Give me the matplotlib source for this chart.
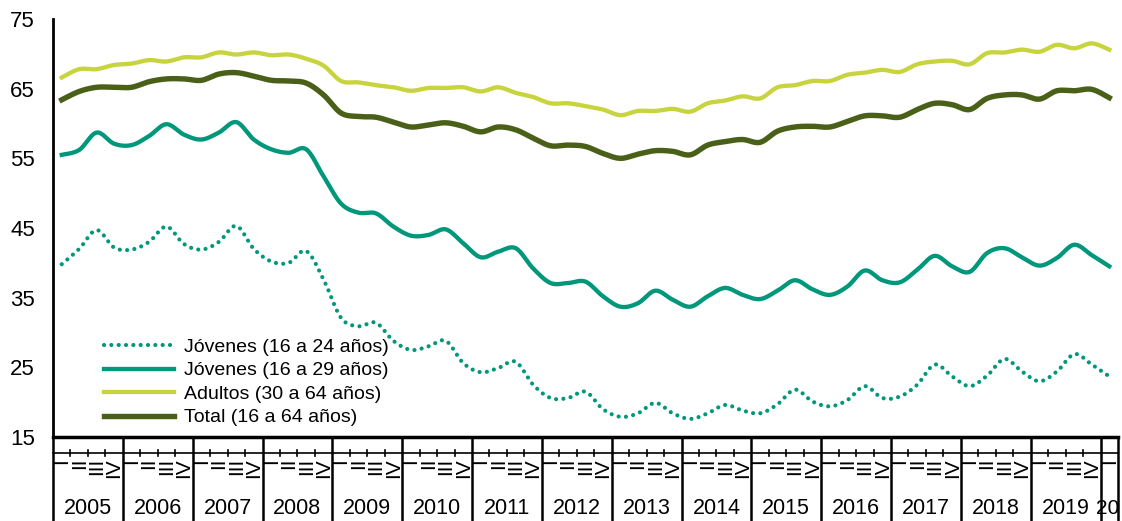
import numpy as np
import matplotlib.pyplot as plt
import matplotlib.transforms as mtransforms

# quarterly series 2005-I .. 2020-I
years = [str(y) for y in range(2005, 2021)]
quarters = ['I', 'II', 'III', 'IV']

jov24 = [39.8, 42.0, 44.7, 42.2, 41.9, 43.0, 45.2, 42.7, 41.9, 43.0,
         45.3, 42.0, 40.2, 40.0, 41.7, 37.6, 32.1, 30.9, 31.4, 28.8,
         27.5, 28.0, 28.8, 25.6, 24.3, 24.9, 25.8, 22.5, 20.6, 20.6,
         21.5, 19.0, 17.9, 18.4, 19.9, 18.4, 17.6, 18.4, 19.6, 18.8,
         18.4, 19.7, 21.8, 20.1, 19.4, 20.3, 22.3, 20.6, 20.8, 22.5,
         25.4, 23.7, 22.3, 23.8, 26.2, 24.4, 23.0, 24.4, 26.9, 25.4,
         23.7]
jov29 = [55.5, 56.2, 58.7, 57.1, 56.9, 58.2, 59.9, 58.4, 57.7, 58.7,
         60.2, 57.7, 56.3, 55.8, 56.3, 52.4, 48.5, 47.2, 47.1, 45.2,
         43.9, 44.0, 44.8, 42.8, 40.8, 41.6, 42.1, 39.2, 37.1, 37.1,
         37.3, 35.2, 33.7, 34.2, 36.0, 34.7, 33.7, 35.2, 36.4, 35.4,
         34.8, 36.0, 37.5, 36.2, 35.4, 36.6, 38.9, 37.5, 37.2, 39.0,
         41.0, 39.5, 38.7, 41.4, 42.1, 40.8, 39.6, 40.7, 42.6, 41.1,
         39.5]
adultos = [66.6, 67.8, 67.8, 68.4, 68.6, 69.1, 68.9, 69.5, 69.5, 70.2,
           69.9, 70.2, 69.8, 69.9, 69.3, 68.3, 66.1, 65.9, 65.5, 65.2,
           64.7, 65.1, 65.1, 65.2, 64.6, 65.2, 64.4, 63.8, 62.9, 62.9,
           62.5, 62.0, 61.2, 61.8, 61.8, 62.1, 61.7, 62.9, 63.3, 63.9,
           63.6, 65.2, 65.5, 66.1, 66.1, 67.0, 67.3, 67.7, 67.4, 68.5,
           68.9, 69.0, 68.5, 70.1, 70.2, 70.6, 70.3, 71.3, 70.8, 71.5,
           70.6]
total = [63.4, 64.6, 65.2, 65.2, 65.2, 66.0, 66.4, 66.4, 66.2, 67.1,
         67.3, 66.8, 66.2, 66.1, 65.8, 64.1, 61.5, 61.0, 60.9, 60.2,
         59.5, 59.8, 60.1, 59.6, 58.8, 59.5, 59.1, 57.9, 56.8, 56.9,
         56.7, 55.7, 55.0, 55.6, 56.1, 56.0, 55.5, 56.9, 57.4, 57.7,
         57.3, 58.9, 59.5, 59.6, 59.5, 60.3, 61.1, 61.1, 60.9, 62.0,
         62.9, 62.7, 62.0, 63.6, 64.1, 64.1, 63.5, 64.7, 64.7, 64.9,
         63.7]

names = ['Jóvenes (16 a 24 años)', 'Jóvenes (16 a 29 años)',
         'Adultos (30 a 64 años)', 'Total (16 a 64 años)']


def smooth(y, n=16):
    # catmull-rom curve through the points, like a smoothed excel line
    y = np.asarray(y, float)
    x = np.arange(len(y), dtype=float)
    px = np.concatenate([[x[0]], x, [x[-1]]])
    py = np.concatenate([[y[0]], y, [y[-1]]])
    t = np.linspace(0, 1, n, endpoint=False)
    xs, ys = [], []
    for i in range(1, len(px) - 2):
        for p, out in ((px, xs), (py, ys)):
            p0, p1, p2, p3 = p[i - 1], p[i], p[i + 1], p[i + 2]
            out.append(0.5 * ((2 * p1) + (-p0 + p2) * t
                              + (2 * p0 - 5 * p1 + 4 * p2 - p3) * t ** 2
                              + (-p0 + 3 * p1 - 3 * p2 + p3) * t ** 3))
    xs.append([x[-1]])
    ys.append([y[-1]])
    return np.concatenate(xs), np.concatenate(ys)


plt.rcParams['font.family'] = ['Liberation Sans', 'DejaVu Sans']

fig = plt.figure(figsize=(11.22, 5.21), dpi=100)
ax = fig.add_axes([53 / 1122, 84 / 521, 1065 / 1122, 418 / 521])

teal = '#00977A'
lime = '#C8D43E'
olive = '#4A6019'

x, y = smooth(jov24)
ax.plot(x, y, color=teal, lw=3, ls=(0, (0.01, 1.75)), dash_capstyle='round',
        label=names[0])
x, y = smooth(jov29)
ax.plot(x, y, color=teal, lw=3.1, label=names[1])
x, y = smooth(adultos)
ax.plot(x, y, color=lime, lw=3.1, label=names[2])
x, y = smooth(total)
ax.plot(x, y, color=olive, lw=3.9, label=names[3])

n = len(total)
ax.set_xlim(-0.5, n - 0.5)
ax.set_ylim(15, 75)
ax.set_yticks(np.arange(15, 76, 10))
ax.tick_params(axis='y', length=0, pad=13, labelsize=16)
ax.set_xticks([])
for s in ['top', 'right']:
    ax.spines[s].set_visible(False)
ax.spines['left'].set_linewidth(2)
ax.spines['bottom'].set_linewidth(2.5)

# category axis below the plot: quarters and years
tr = mtransforms.blended_transform_factory(ax.transData, ax.transAxes)
for k in range(0, n, 4):
    ax.plot([k - 0.5, k - 0.5], [0, -0.22], transform=tr, color='black',
            lw=1.8, clip_on=False)
ax.plot([n - 0.5, n - 0.5], [0, -0.22], transform=tr, color='black',
        lw=1.8, clip_on=False)
ax.plot([-0.5, n - 0.5], [-0.038, -0.038], transform=tr, color='black',
        lw=1.2, clip_on=False)
for i in range(n):
    if i % 4:
        ax.plot([i - 0.5, i - 0.5], [-0.03, -0.046], transform=tr,
                color='black', lw=1.2, clip_on=False)
    ax.text(i, -0.05, quarters[i % 4], rotation=90, ha='center', va='top',
            fontsize=15, transform=tr, clip_on=False)

for k, yr in enumerate(years):
    c = k * 4 + 1.5
    if c > n:
        # last year only has one quarter: the label is cut like the original
        ax.text(n - 0.45, -0.17, yr[:2], ha='right', va='center',
                fontsize=15, transform=tr)
    else:
        ax.text(c, -0.17, yr, ha='center', va='center', fontsize=15.5,
                transform=tr)

ax.legend(loc='lower left', bbox_to_anchor=(0.038, 0.0), frameon=False,
          fontsize=14, handlelength=3.6, handletextpad=0.5,
          labelspacing=0.3, borderaxespad=0.15)

fig.savefig('out.png', dpi=100)
